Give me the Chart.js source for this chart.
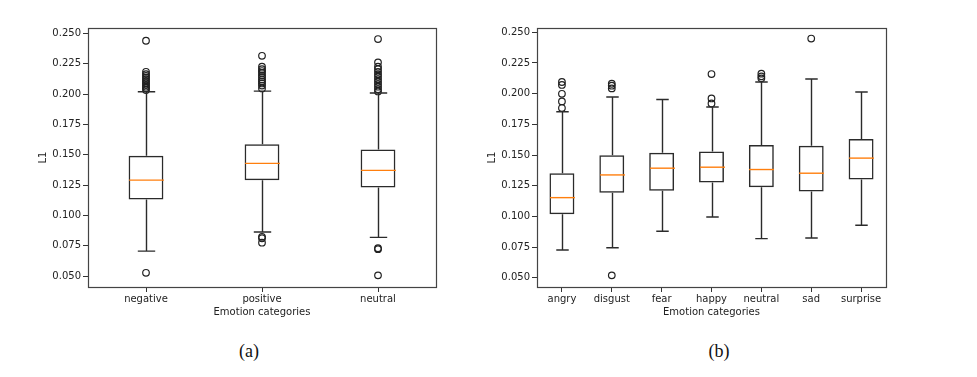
<!DOCTYPE html>
<html>
<head>
<meta charset="utf-8">
<script src="https://cdn.jsdelivr.net/npm/chart.js@4.4.1/dist/chart.umd.min.js"></script>
<style>
  body { margin: 0; background: #fff; width: 977px; height: 377px; position: relative; overflow: hidden; }
  #chartA { position: absolute; left: 0; top: 0; }
  #chartB { position: absolute; left: 449px; top: 0; }
  .cap { position: absolute; top: 341px; font: 18px "Liberation Serif", serif; color: #111; transform: translateX(-50%); }
</style>
</head>
<body>
<canvas id="chartA" width="449" height="337"></canvas>
<canvas id="chartB" width="470" height="337"></canvas>
<div class="cap" style="left:249px">(a)</div>
<div class="cap" style="left:719px">(b)</div>
<script>
// shared y ticks
const yTicks = [0.05, 0.075, 0.1, 0.125, 0.15, 0.175, 0.2, 0.225, 0.25];

// (a) three categories
const catsA = ['negative', 'positive', 'neutral'];
const q1A = [0.1132, 0.1289, 0.1231];
const medA = [0.1291, 0.1429, 0.1371];
const q3A = [0.1492, 0.1586, 0.1544];
const loA = [0.0706, 0.0863, 0.0819];
const hiA = [0.2019, 0.2025, 0.2009];
const outNegative = [0.244, 0.2184, 0.2165, 0.215, 0.2135, 0.212, 0.2105, 0.209, 0.2075, 0.2061, 0.2048, 0.2033, 0.0527];
const outPositive = [0.2316, 0.2226, 0.2205, 0.219, 0.2175, 0.2155, 0.214, 0.212, 0.2105, 0.2088, 0.207, 0.2047, 0.0824, 0.0812, 0.0775];
const outNeutral = [0.2454, 0.2262, 0.2226, 0.2205, 0.2184, 0.2163, 0.2143, 0.2122, 0.2102, 0.2082, 0.2061, 0.204, 0.2022, 0.073, 0.0722, 0.0506];

// (b) seven categories
const catsB = ['angry', 'disgust', 'fear', 'happy', 'neutral', 'sad', 'surprise'];
const q1B = [0.1018, 0.1192, 0.121, 0.1276, 0.1238, 0.1202, 0.13];
const medB = [0.1153, 0.1338, 0.1393, 0.1401, 0.1382, 0.1352, 0.1475];
const q3B = [0.1352, 0.1499, 0.1518, 0.1529, 0.1581, 0.1575, 0.163];
const loB = [0.0726, 0.0745, 0.0879, 0.0995, 0.0819, 0.0824, 0.0928];
const hiB = [0.1853, 0.1973, 0.1953, 0.1891, 0.2095, 0.212, 0.2013];
const outAngry = [0.2095, 0.2071, 0.1999, 0.1937, 0.1883];
const outDisgust = [0.2081, 0.2065, 0.2043, 0.052];
const outFear = [];
const outHappy = [0.216, 0.1961, 0.192];
const outNeutralB = [0.2163, 0.2141, 0.2125];
const outSad = [0.2449];
const outSurprise = [];

Chart.defaults.font.family = '"DejaVu Sans", sans-serif';
Chart.defaults.font.size = 10;
Chart.defaults.color = '#222';

// whiskers, caps and medians, placed from the bar elements and y scale
const boxPlotLines = {
  id: 'boxPlotLines',
  afterDatasetsDraw(chart, args, opts) {
    const { ctx, scales: { y } } = chart;
    const meta = chart.getDatasetMeta(0);
    ctx.save();
    meta.data.forEach((bar, i) => {
      const cx = Math.round(bar.x) + 0.5;
      const hw = bar.width / 2;
      const yLo = y.getPixelForValue(opts.lo[i]);
      const yHi = y.getPixelForValue(opts.hi[i]);
      const yQ1 = y.getPixelForValue(opts.q1[i]);
      const yQ3 = y.getPixelForValue(opts.q3[i]);
      const yMed = y.getPixelForValue(opts.med[i]);
      ctx.strokeStyle = '#2b2b2b';
      ctx.lineWidth = 1.4;
      ctx.beginPath();
      ctx.moveTo(cx, yQ1); ctx.lineTo(cx, yLo);
      ctx.moveTo(cx, yQ3); ctx.lineTo(cx, yHi);
      ctx.moveTo(cx - hw / 2, yLo); ctx.lineTo(cx + hw / 2, yLo);
      ctx.moveTo(cx - hw / 2, yHi); ctx.lineTo(cx + hw / 2, yHi);
      ctx.stroke();
      ctx.strokeStyle = '#ff7f0e';
      ctx.lineWidth = 1.4;
      ctx.beginPath();
      ctx.moveTo(cx - hw, yMed); ctx.lineTo(cx + hw, yMed);
      ctx.stroke();
    });
    ctx.restore();
  }
};

const frame = {
  id: 'frame',
  afterDraw(chart) {
    const { ctx, chartArea: a } = chart;
    ctx.save();
    ctx.strokeStyle = '#444';
    ctx.lineWidth = 1.2;
    ctx.strokeRect(Math.round(a.left) + 0.5, Math.round(a.top) + 0.5, Math.round(a.right - a.left), Math.round(a.bottom - a.top));
    ctx.restore();
  }
};

function makeBox(id, cats, q1, med, q3, lo, hi, outliers, barPct, yMin, yMax, padRight) {
  const points = cats.flatMap((c, i) => outliers[i].map(v => ({ x: c, y: v })));
  new Chart(document.getElementById(id).getContext('2d'), {
    data: {
      labels: cats,
      datasets: [
        {
          type: 'bar',
          data: q1.map((v, i) => [v, q3[i]]),
          backgroundColor: 'rgba(0,0,0,0)',
          borderColor: '#2b2b2b',
          borderWidth: 1.5,
          borderSkipped: false,
          barPercentage: barPct,
          categoryPercentage: 1
        },
        {
          type: 'line',
          data: points,
          showLine: false,
          pointStyle: 'circle',
          pointRadius: 3.3,
          pointBorderWidth: 1.2,
          pointBorderColor: '#222',
          pointBackgroundColor: 'rgba(0,0,0,0)'
        }
      ]
    },
    options: {
      responsive: false,
      animation: false,
      layout: { padding: { top: 28, right: padRight, left: 0, bottom: 0 } },
      plugins: {
        legend: { display: false },
        tooltip: { enabled: false },
        boxPlotLines: { q1, med, q3, lo, hi }
      },
      scales: {
        x: {
          offset: true,
          grid: { drawOnChartArea: false, drawTicks: true, tickLength: 5, tickColor: '#333', offset: false },
          border: { display: false },
          ticks: { padding: 1, maxRotation: 0, color: '#222' },
          title: { display: true, text: 'Emotion categories', color: '#222', padding: { top: 0, bottom: 19 } },
          afterFit(s) { s.height = 50; }
        },
        y: {
          min: yMin,
          max: yMax,
          grid: { drawOnChartArea: false, drawTicks: true, tickLength: 5, tickColor: '#333' },
          border: { display: false },
          ticks: { padding: 2, color: '#222', callback: v => v.toFixed(3) },
          afterBuildTicks(s) { s.ticks = yTicks.map(v => ({ value: v })); },
          title: { display: true, text: 'L1', color: '#222', padding: { top: 37, bottom: 0 } },
          afterFit(s) { s.width = 88; }
        }
      }
    },
    plugins: [boxPlotLines, frame]
  });
}

makeBox('chartA', catsA, q1A, medA, q3A, loA, hiA,
  [outNegative, outPositive, outNeutral], 0.3, 0.041, 0.2545, 13);
makeBox('chartB', catsB, q1B, medB, q3B, loB, hiB,
  [outAngry, outDisgust, outFear, outHappy, outNeutralB, outSad, outSurprise], 0.5, 0.0425, 0.2535, 33);
</script>
</body>
</html>
